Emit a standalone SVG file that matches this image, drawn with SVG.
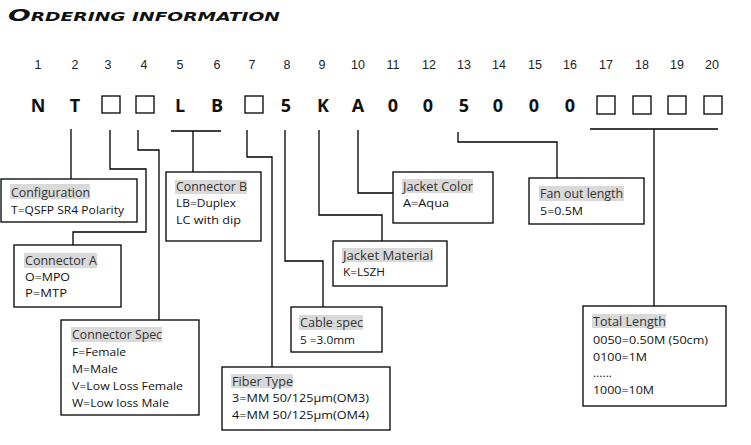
<svg xmlns="http://www.w3.org/2000/svg" width="751" height="445" viewBox="0 0 751 445">
<style>
.num{font-family:"Liberation Sans",Arial,sans-serif;font-size:12.5px;fill:#222;text-anchor:middle}
.code{font-family:"Open Sans","Liberation Sans",sans-serif;font-weight:700;font-size:18px;fill:#111;text-anchor:middle}
.cb{fill:#fff;stroke:#000;stroke-width:1.3}
.box{fill:#fff;stroke:#000;stroke-width:1.3}
.hl{fill:#d9d9d9}
.tt{font-family:"Open Sans","Liberation Sans",sans-serif;font-weight:500;font-size:13px;fill:#333}
.bd{font-family:"Open Sans","Liberation Sans",sans-serif;font-size:11.5px;fill:#111}
.ln{fill:none;stroke:#000;stroke-width:1.3}
.title{font-family:"DejaVu Sans",Verdana,sans-serif;font-weight:700;font-style:italic;fill:#111}
</style>
<rect width="751" height="445" fill="#fff"/>
<text class="title" x="8" y="21" textLength="272" lengthAdjust="spacingAndGlyphs"><tspan font-size="16.5px">O</tspan><tspan font-size="11.5px">RDERING INFORMATION</tspan></text>
<g id="positions">
<text class="num" x="38" y="69">1</text>
<text class="num" x="75" y="69">2</text>
<text class="num" x="108" y="69">3</text>
<text class="num" x="144" y="69">4</text>
<text class="num" x="180" y="69">5</text>
<text class="num" x="217" y="69">6</text>
<text class="num" x="252" y="69">7</text>
<text class="num" x="287" y="69">8</text>
<text class="num" x="322" y="69">9</text>
<text class="num" x="358" y="69">10</text>
<text class="num" x="393" y="69">11</text>
<text class="num" x="429" y="69">12</text>
<text class="num" x="464" y="69">13</text>
<text class="num" x="499" y="69">14</text>
<text class="num" x="535" y="69">15</text>
<text class="num" x="570" y="69">16</text>
<text class="num" x="606" y="69">17</text>
<text class="num" x="642" y="69">18</text>
<text class="num" x="677" y="69">19</text>
<text class="num" x="712" y="69">20</text>
</g>
<g id="code">
<text class="code" x="38" y="112">N</text>
<text class="code" x="75" y="112">T</text>
<rect class="cb" x="102" y="96" width="18" height="17"/>
<rect class="cb" x="136" y="96" width="18" height="17"/>
<text class="code" x="180" y="112">L</text>
<text class="code" x="217" y="112">B</text>
<rect class="cb" x="245" y="96" width="18" height="17"/>
<text class="code" x="286" y="112">5</text>
<text class="code" x="323" y="112">K</text>
<text class="code" x="358" y="112">A</text>
<text class="code" x="393" y="112">0</text>
<text class="code" x="428" y="112">0</text>
<text class="code" x="464" y="112">5</text>
<text class="code" x="498" y="112">0</text>
<text class="code" x="534" y="112">0</text>
<text class="code" x="570" y="112">0</text>
<rect class="cb" x="597" y="96" width="18" height="18"/>
<rect class="cb" x="633" y="96" width="18" height="18"/>
<rect class="cb" x="668" y="96" width="18" height="18"/>
<rect class="cb" x="704" y="96" width="18" height="18"/>
</g>
<g id="connectors">
<path class="ln" d="M71,129 V179"/>
<path class="ln" d="M110,130 V169 H146 V232 H73 V245"/>
<path class="ln" d="M138,130 V150 H159 V320"/>
<path class="ln" d="M171,131 H221 M193,131 V172"/>
<path class="ln" d="M247,130 V157 H272 V367"/>
<path class="ln" d="M285,130 V261 H323 V307"/>
<path class="ln" d="M319,130 V215 H382 V241"/>
<path class="ln" d="M358,130 V193 H393"/>
<path class="ln" d="M458,132 V142 H557 V178"/>
<path class="ln" d="M590,129 H718 M654,129 V306"/>
</g>
<g id="configuration">
<rect class="box" x="1" y="179" width="136" height="43"/>
<rect class="hl" x="10" y="184" width="80" height="15"/>
<text class="tt" x="11" y="197" textLength="79" lengthAdjust="spacingAndGlyphs">Configuration</text>
<text class="bd" x="11" y="214" textLength="113" lengthAdjust="spacingAndGlyphs">T=QSFP SR4 Polarity</text>
</g>
<g id="connector-a">
<rect class="box" x="14" y="245" width="107" height="62"/>
<rect class="hl" x="24" y="253" width="73" height="15"/>
<text class="tt" x="25" y="265" textLength="72" lengthAdjust="spacingAndGlyphs">Connector A</text>
<text class="bd" x="25" y="281" textLength="45" lengthAdjust="spacingAndGlyphs">O=MPO</text>
<text class="bd" x="25" y="297" textLength="42" lengthAdjust="spacingAndGlyphs">P=MTP</text>
</g>
<g id="connector-b">
<rect class="box" x="166" y="172" width="95" height="69"/>
<rect class="hl" x="175" y="180" width="72" height="14"/>
<text class="tt" x="176" y="191" textLength="71" lengthAdjust="spacingAndGlyphs">Connector B</text>
<text class="bd" x="176" y="207" textLength="60" lengthAdjust="spacingAndGlyphs">LB=Duplex</text>
<text class="bd" x="176" y="224" textLength="65" lengthAdjust="spacingAndGlyphs">LC with dip</text>
</g>
<g id="connector-spec">
<rect class="box" x="61" y="320" width="138" height="95"/>
<rect class="hl" x="71" y="327" width="91" height="15"/>
<text class="tt" x="72" y="339" textLength="90" lengthAdjust="spacingAndGlyphs">Connector Spec</text>
<text class="bd" x="72" y="356" textLength="54" lengthAdjust="spacingAndGlyphs">F=Female</text>
<text class="bd" x="72" y="373" textLength="46" lengthAdjust="spacingAndGlyphs">M=Male</text>
<text class="bd" x="72" y="390" textLength="111" lengthAdjust="spacingAndGlyphs">V=Low Loss Female</text>
<text class="bd" x="72" y="407" textLength="97" lengthAdjust="spacingAndGlyphs">W=Low loss Male</text>
</g>
<g id="fiber-type">
<rect class="box" x="222" y="367" width="168" height="63"/>
<rect class="hl" x="231" y="374" width="62" height="14"/>
<text class="tt" x="232" y="386" textLength="61" lengthAdjust="spacingAndGlyphs">Fiber Type</text>
<text class="bd" x="232" y="402" textLength="137" lengthAdjust="spacingAndGlyphs">3=MM 50/125µm(OM3)</text>
<text class="bd" x="232" y="419" textLength="137" lengthAdjust="spacingAndGlyphs">4=MM 50/125µm(OM4)</text>
</g>
<g id="cable-spec">
<rect class="box" x="291" y="307" width="91" height="45"/>
<rect class="hl" x="299" y="315" width="64" height="15"/>
<text class="tt" x="300" y="327" textLength="63" lengthAdjust="spacingAndGlyphs">Cable spec</text>
<text class="bd" x="300" y="344" textLength="55" lengthAdjust="spacingAndGlyphs">5 =3.0mm</text>
</g>
<g id="jacket-material">
<rect class="box" x="333" y="241" width="114" height="45"/>
<rect class="hl" x="342" y="248" width="91" height="14"/>
<text class="tt" x="343" y="260" textLength="90" lengthAdjust="spacingAndGlyphs">Jacket Material</text>
<text class="bd" x="343" y="276" textLength="42" lengthAdjust="spacingAndGlyphs">K=LSZH</text>
</g>
<g id="jacket-color">
<rect class="box" x="393" y="172" width="100" height="51"/>
<rect class="hl" x="402" y="179" width="71" height="14"/>
<text class="tt" x="403" y="191" textLength="70" lengthAdjust="spacingAndGlyphs">Jacket Color</text>
<text class="bd" x="403" y="207" textLength="46" lengthAdjust="spacingAndGlyphs">A=Aqua</text>
</g>
<g id="fan-out-length">
<rect class="box" x="529" y="178" width="115" height="46"/>
<rect class="hl" x="539" y="186" width="85" height="15"/>
<text class="tt" x="540" y="198" textLength="83" lengthAdjust="spacingAndGlyphs">Fan out length</text>
<text class="bd" x="540" y="215" textLength="43" lengthAdjust="spacingAndGlyphs">5=0.5M</text>
</g>
<g id="total-length">
<rect class="box" x="583" y="306" width="143" height="100"/>
<rect class="hl" x="592" y="314" width="74" height="14"/>
<text class="tt" x="593" y="326" textLength="73" lengthAdjust="spacingAndGlyphs">Total Length</text>
<text class="bd" x="593" y="344" textLength="115" lengthAdjust="spacingAndGlyphs">0050=0.50M (50cm)</text>
<text class="bd" x="593" y="361" textLength="54" lengthAdjust="spacingAndGlyphs">0100=1M</text>
<text class="bd" x="593" y="377" textLength="19" lengthAdjust="spacingAndGlyphs">......</text>
<text class="bd" x="593" y="394" textLength="61" lengthAdjust="spacingAndGlyphs">1000=10M</text>
</g>
</svg>
